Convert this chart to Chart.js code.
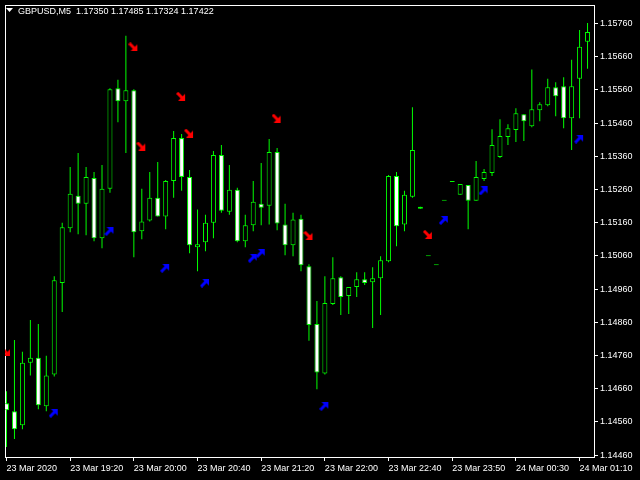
<!DOCTYPE html>
<html>
<head>
<meta charset="utf-8">
<script src="https://cdn.jsdelivr.net/npm/chart.js@4/dist/chart.umd.min.js"></script>
<style>
  html, body { margin: 0; padding: 0; background: #000; }
  canvas { display: block; }
</style>
</head>
<body>
<canvas id="chart" width="640" height="480"></canvas>
<script>
// GBPUSD M5 candles (oldest first)
const opens = [
  1.14616, 1.14592, 1.14550, 1.14738, 1.14753, 1.14607, 1.14703, 1.14978, 1.15143, 1.15241,
  1.15217, 1.15295, 1.15113, 1.15262, 1.15565, 1.15526, 1.15559, 1.15134, 1.15167, 1.15235,
  1.15179, 1.15286, 1.15415, 1.15298, 1.15086, 1.15101, 1.15160, 1.15364, 1.15193, 1.15259,
  1.15104, 1.15152, 1.15217, 1.15211, 1.15373, 1.15155, 1.15092, 1.15172, 1.15029, 1.14855,
  1.14706, 1.14915, 1.14996, 1.14939, 1.14966, 1.14990, 1.14981, 1.14993, 1.15044, 1.15301,
  1.15155, 1.15238, 1.15202, 1.15059, 1.15032, 1.15226, 1.15283, 1.15244, 1.15274, 1.15226,
  1.15292, 1.15310, 1.15358, 1.15418, 1.15439, 1.15487, 1.15451, 1.15499, 1.15514, 1.15568,
  1.15571, 1.15475, 1.15594, 1.15705
];
const highs = [
  1.14652, 1.14807, 1.14771, 1.14867, 1.14855, 1.14759, 1.14999, 1.15160, 1.15328, 1.15370,
  1.15328, 1.15313, 1.15334, 1.15565, 1.15591, 1.15723, 1.15562, 1.15262, 1.15313, 1.15343,
  1.15289, 1.15436, 1.15427, 1.15319, 1.15200, 1.15184, 1.15376, 1.15394, 1.15334, 1.15265,
  1.15184, 1.15286, 1.15340, 1.15412, 1.15385, 1.15217, 1.15190, 1.15184, 1.15035, 1.14924,
  1.14999, 1.15056, 1.14999, 1.14966, 1.15011, 1.15011, 1.15026, 1.15059, 1.15304, 1.15313,
  1.15256, 1.15508, 1.15208, 1.15059, 1.15032, 1.15226, 1.15283, 1.15277, 1.15274, 1.15346,
  1.15322, 1.15442, 1.15472, 1.15457, 1.15505, 1.15487, 1.15622, 1.15523, 1.15594, 1.15583,
  1.15598, 1.15651, 1.15741, 1.15762
];
const lows = [
  1.14484, 1.14508, 1.14538, 1.14700, 1.14598, 1.14592, 1.14697, 1.14891, 1.15131, 1.15125,
  1.15122, 1.15104, 1.15083, 1.15250, 1.15463, 1.15370, 1.15056, 1.15110, 1.15164, 1.15179,
  1.15140, 1.15235, 1.15256, 1.15068, 1.15014, 1.15074, 1.15113, 1.15190, 1.15184, 1.15101,
  1.15086, 1.15134, 1.15152, 1.15155, 1.15137, 1.15062, 1.15059, 1.15014, 1.14804, 1.14658,
  1.14703, 1.14912, 1.14882, 1.14885, 1.14936, 1.14972, 1.14843, 1.14882, 1.15041, 1.15089,
  1.15134, 1.15235, 1.15202, 1.15059, 1.15032, 1.15226, 1.15283, 1.15244, 1.15140, 1.15226,
  1.15286, 1.15301, 1.15355, 1.15394, 1.15403, 1.15406, 1.15448, 1.15466, 1.15511, 1.15481,
  1.15445, 1.15379, 1.15475, 1.15624
];
const closes = [
  1.14595, 1.14538, 1.14738, 1.14753, 1.14610, 1.14700, 1.14987, 1.15146, 1.15247, 1.15217,
  1.15298, 1.15113, 1.15262, 1.15562, 1.15526, 1.15559, 1.15131, 1.15164, 1.15235, 1.15179,
  1.15286, 1.15415, 1.15298, 1.15092, 1.15095, 1.15160, 1.15364, 1.15196, 1.15259, 1.15104,
  1.15152, 1.15223, 1.15205, 1.15373, 1.15158, 1.15092, 1.15170, 1.15032, 1.14852, 1.14709,
  1.14918, 1.14993, 1.14936, 1.14966, 1.14990, 1.14978, 1.14993, 1.15047, 1.15301, 1.15149,
  1.15244, 1.15379, 1.15208, 1.15059, 1.15032, 1.15226, 1.15283, 1.15277, 1.15226, 1.15298,
  1.15313, 1.15394, 1.15421, 1.15445, 1.15490, 1.15466, 1.15502, 1.15517, 1.15568, 1.15541,
  1.15475, 1.15571, 1.15690, 1.15735
];

// signal arrows (bar index, price)
const sellIdx = [0, 16, 17, 22, 23, 34, 38, 53];
const sellPrice = [1.14771, 1.15690, 1.15391, 1.15541, 1.15430, 1.15475, 1.15122, 1.15125];
const buyIdx = [6, 13, 20, 25, 31, 32, 40, 55, 60, 72];
const buyPrice = [1.14586, 1.15134, 1.15023, 1.14978, 1.15053, 1.15068, 1.14607, 1.15167, 1.15256, 1.15412];

// axis labels
const timeTickIdx = [0, 8, 16, 24, 32, 40, 48, 56, 64, 72];
const timeTickLabels = ['23 Mar 2020', '23 Mar 19:20', '23 Mar 20:00', '23 Mar 20:40', '23 Mar 21:20',
  '23 Mar 22:00', '23 Mar 22:40', '23 Mar 23:50', '24 Mar 00:30', '24 Mar 01:10'];
const priceTicks = [1.14460, 1.14560, 1.14660, 1.14760, 1.14860, 1.14960, 1.15060,
  1.15160, 1.15260, 1.15360, 1.15460, 1.15560, 1.15660, 1.15760];
const headerText = 'GBPUSD,M5  1.17350 1.17485 1.17324 1.17422';

const LIME = '#00ff00';
const FONT = { family: 'Liberation Sans', size: 9 };

// arrow glyphs like the MT4 wingdings ones
function arrowImage(color, down) {
    const c = document.createElement('canvas');
    c.width = 11; c.height = 9;
    const g = c.getContext('2d');
    g.fillStyle = color; g.strokeStyle = color; g.lineWidth = 3;
    g.beginPath();
    if (down) {
        g.moveTo(1, 1); g.lineTo(6, 6);
        g.stroke();
        g.beginPath(); g.moveTo(9, 2); g.lineTo(9, 9); g.lineTo(2, 9);
    } else {
        g.moveTo(1, 8); g.lineTo(6, 3);
        g.stroke();
        g.beginPath(); g.moveTo(2, 0); g.lineTo(9, 0); g.lineTo(9, 7);
    }
    g.closePath(); g.fill();
    return c;
}

const frame = {
    id: 'frame',
    beforeDatasetsDraw(chart) {
        const {ctx, chartArea: a} = chart;
        ctx.save();
        ctx.strokeStyle = '#ffffff'; ctx.lineWidth = 1;
        ctx.strokeRect(a.left + 0.5, a.top + 0.5, a.right - a.left - 1, a.bottom - a.top);
        ctx.restore();
    },
    afterDraw(chart) {
        const {ctx} = chart;
        ctx.save();
        ctx.fillStyle = '#ffffff';
        ctx.beginPath(); ctx.moveTo(6, 8); ctx.lineTo(13, 8); ctx.lineTo(9.5, 12); ctx.closePath(); ctx.fill();
        ctx.font = '9px "Liberation Sans"';
        ctx.textBaseline = 'alphabetic';
        ctx.fillText(headerText, 18, 14);
        ctx.restore();
    }
};

new Chart(document.getElementById('chart'), {
    type: 'bar',
    data: {
        datasets: [
            {
                type: 'scatter',
                data: sellIdx.map((x, i) => ({x: x, y: sellPrice[i]})),
                pointStyle: arrowImage('#ff0000', true),
                order: 0
            },
            {
                type: 'scatter',
                data: buyIdx.map((x, i) => ({x: x, y: buyPrice[i]})),
                pointStyle: arrowImage('#0000ff', false),
                order: 0
            },
            {
                data: opens.map((o, i) => ({x: i, y: [o, closes[i]]})),
                backgroundColor: c => closes[c.dataIndex] < opens[c.dataIndex] ? '#ffffff' : '#000000',
                borderColor: LIME,
                borderWidth: 1,
                borderSkipped: false,
                barThickness: 5,
                minBarLength: 1,
                grouped: false,
                inflateAmount: 0,
                order: 1
            },
            {
                data: lows.map((l, i) => ({x: i, y: [l, highs[i]]})),
                backgroundColor: LIME,
                borderWidth: 0,
                barThickness: 1,
                grouped: false,
                inflateAmount: 0,
                order: 2
            }
        ]
    },
    options: {
        responsive: false,
        animation: false,
        devicePixelRatio: 1,
        layout: { padding: { left: 2, top: 2, right: 0, bottom: 0 } },
        plugins: { legend: { display: false }, tooltip: { enabled: false } },
        scales: {
            x: {
                type: 'linear',
                min: -0.1875,
                max: 73.9375,
                offset: false,
                grid: { display: true, offset: false, drawOnChartArea: false, color: '#ffffff', tickLength: 4 },
                border: { display: false },
                ticks: {
                    color: '#ffffff', font: FONT, align: 'start', padding: 2,
                    autoSkip: false, maxRotation: 0, minRotation: 0,
                    callback: v => timeTickLabels[timeTickIdx.indexOf(v)]
                },
                afterBuildTicks: s => { s.ticks = timeTickIdx.map(v => ({value: v})); },
                afterFit: s => { s.height = 23; s.paddingLeft = 0; s.paddingRight = 0; }
            },
            y: {
                type: 'linear',
                position: 'right',
                min: 1.144541,
                max: 1.158160,
                bounds: 'data',
                grid: { display: true, drawOnChartArea: false, color: '#ffffff', tickLength: 3 },
                border: { display: false },
                ticks: {
                    color: '#ffffff', font: FONT, padding: 2,
                    callback: v => v.toFixed(5)
                },
                afterBuildTicks: s => { s.ticks = priceTicks.map(v => ({value: v})); },
                afterFit: s => { s.width = 45; s.paddingTop = 0; s.paddingBottom = 0; }
            }
        }
    },
    plugins: [frame]
});
</script>
</body>
</html>
